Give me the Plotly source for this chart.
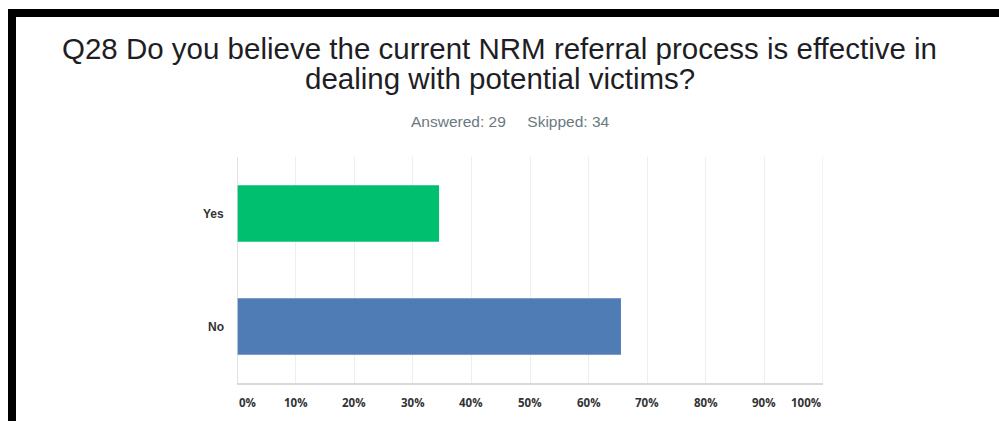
import plotly.graph_objects as go

# Survey responses (share of respondents, %)
categories = ["Yes", "No"]
shares = [34.48, 65.52]
bar_colors = ["#00BF6F", "#507CB6"]

tick_values = [0, 10, 20, 30, 40, 50, 60, 70, 80, 90, 100]
tick_labels = ["0%", "10%", "20%", "30%", "40%", "50%", "60%", "70%", "80%", "90%", "100%"]

title_lines = [
    "Q28 Do you believe the current NRM referral process is effective in",
    "dealing with potential victims?",
]
answered = 29
skipped = 34

W, H = 999, 421


def px(x):
    return x / W


def py(y):
    return 1 - y / H


fig = go.Figure()
fig.add_trace(go.Bar(
    x=shares,
    y=categories,
    orientation="h",
    marker=dict(color=bar_colors, line=dict(width=0)),
    width=0.5,
    hoverinfo="skip",
))

fig.update_layout(
    width=W,
    height=H,
    margin=dict(l=0, r=0, t=0, b=0),
    paper_bgcolor="white",
    plot_bgcolor="white",
    showlegend=False,
    xaxis=dict(
        domain=[px(237), px(823)],
        range=[0, 100],
        tickvals=tick_values,
        showticklabels=False,
        showgrid=True,
        gridcolor="#EEEEEE",
        gridwidth=1,
        zeroline=False,
        showline=True,
        linecolor="#D9D9D9",
        linewidth=1.5,
        mirror=False,
    ),
    yaxis=dict(
        domain=[py(383), py(157)],
        range=[1.5, -0.5],
        categoryorder="array",
        categoryarray=categories,
        showgrid=False,
        zeroline=False,
        showline=False,
        showticklabels=False,
    ),
)

# Left axis line and closing gridline at 100%
fig.add_shape(type="line", xref="x", yref="paper", x0=0, x1=0,
              y0=py(383), y1=py(157), line=dict(color="#D9D9D9", width=1.5))
fig.add_shape(type="line", xref="x", yref="paper", x0=100, x1=100,
              y0=py(383), y1=py(157), line=dict(color="#EEEEEE", width=1.5),
              layer="below")

# Category labels
for cat in categories:
    fig.add_annotation(x=px(226), xref="paper", y=cat, yref="y", text=cat,
                       showarrow=False, xanchor="right",
                       font=dict(family="Liberation Sans", size=12, color="#333333", weight="bold"))

# Percentage tick labels along the bottom
for v, lab in zip(tick_values, tick_labels):
    anchor = "center"
    if v == 0:
        anchor = "left"
    elif v == 100:
        anchor = "right"
    fig.add_annotation(x=v, xref="x", y=py(402), yref="paper", text=lab,
                       showarrow=False, xanchor=anchor, yanchor="middle",
                       font=dict(family="Open Sans", size=11.5, color="#333333", weight="bold"))

# Title
fig.add_annotation(x=0.5, xref="paper", y=py(48), yref="paper", text=title_lines[0],
                   showarrow=False, xanchor="center", yanchor="middle",
                   font=dict(family="Liberation Sans", size=29.5, color="#1E1E24"))
fig.add_annotation(x=0.5, xref="paper", y=py(79), yref="paper", text=title_lines[1],
                   showarrow=False, xanchor="center", yanchor="middle",
                   font=dict(family="Liberation Sans", size=29.5, color="#1E1E24"))

# Answered / skipped counts
fig.add_annotation(x=px(510), xref="paper", y=py(121), yref="paper",
                   text=f"Answered: {answered}&nbsp;&nbsp;&nbsp;&nbsp;&nbsp;Skipped: {skipped}",
                   showarrow=False, xanchor="center", yanchor="middle",
                   font=dict(family="Liberation Sans", size=15.5, color="#6B787F"))

# Black frame along the top and left edges
fig.add_shape(type="rect", xref="paper", yref="paper", x0=px(8), x1=1,
              y0=py(17), y1=py(9), fillcolor="black", line=dict(width=0), layer="above")
fig.add_shape(type="rect", xref="paper", yref="paper", x0=px(8), x1=px(16),
              y0=0, y1=py(9), fillcolor="black", line=dict(width=0), layer="above")

fig.write_html("out.html")
